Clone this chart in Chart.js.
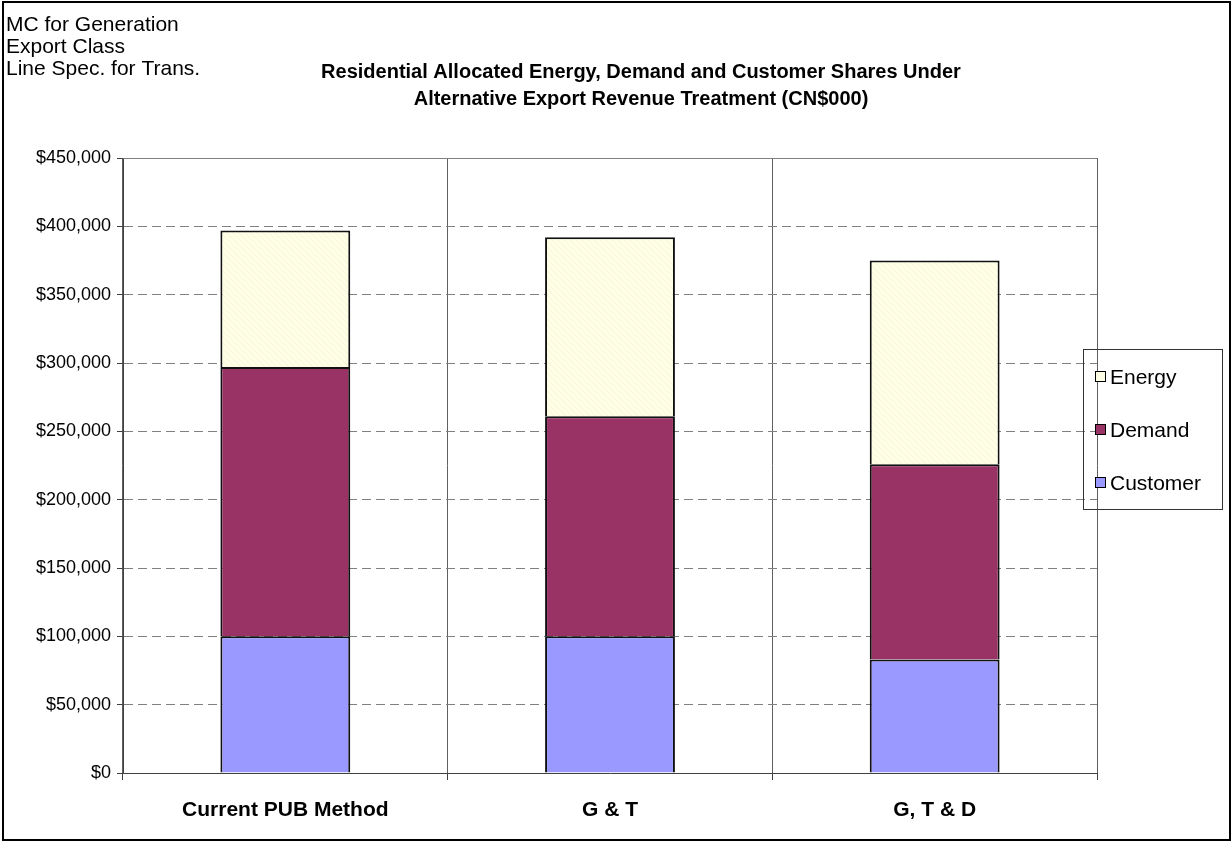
<!DOCTYPE html>
<html>
<head>
<meta charset="utf-8">
<title>Residential Allocated Energy, Demand and Customer Shares</title>
<script src="https://cdn.jsdelivr.net/npm/chart.js@4.4.0/dist/chart.umd.min.js"></script>
<style>
    html, body { margin: 0; padding: 0; background: #ffffff; }
    #wrap { width: 1232px; height: 842px; }
</style>
</head>
<body>
<div id="wrap"><canvas id="BarChart" width="1232" height="842"></canvas></div>
<script>
// values in CN$000
let categories = ["Current PUB Method", "G & T", "G, T & D"];
let customerValues = [100000, 100000, 83000];
let demandValues = [197000, 161000, 143000];
let energyValues = [100000, 131000, 149000];
let yTicks = [0, 50000, 100000, 150000, 200000, 250000, 300000, 350000, 400000, 450000];
let noteLines = ["MC for Generation", "Export Class", "Line Spec. for Trans."];
let titleLines = [
    "Residential Allocated Energy, Demand and Customer Shares Under",
    "Alternative Export Revenue Treatment (CN$000)"
];

const FONT = "'Liberation Sans', Arial, sans-serif";

function makeHatch() {
    let c = document.createElement("canvas");
    c.width = 6;
    c.height = 6;
    let g = c.getContext("2d");
    g.fillStyle = "#ffffe8";
    g.fillRect(0, 0, 6, 6);
    g.strokeStyle = "#f6f6d4";
    g.lineWidth = 1;
    g.beginPath();
    for (let k = -6; k <= 6; k += 6) {
        g.moveTo(k, 0);
        g.lineTo(k + 6, 6);
    }
    g.stroke();
    return g.createPattern(c, "repeat");
}

function formatMoney(v) {
    return "$" + Number(v).toLocaleString("en-US");
}

// frame, notes, title, legend and the top edge of the plot area
const decorations = {
    id: "decorations",
    afterDraw(chart) {
        let ctx = chart.ctx;
        let area = chart.chartArea;
        ctx.save();

        ctx.strokeStyle = "#808080";
        ctx.lineWidth = 1;
        ctx.beginPath();
        ctx.moveTo(area.left, area.top + 0.5);
        ctx.lineTo(area.right, area.top + 0.5);
        ctx.stroke();

        ctx.strokeStyle = "#000000";
        ctx.lineWidth = 2;
        ctx.strokeRect(3, 2, 1227, 838);

        ctx.fillStyle = "#000000";
        ctx.textBaseline = "middle";
        ctx.textAlign = "left";
        ctx.font = "21px " + FONT;
        noteLines.forEach((line, i) => ctx.fillText(line, 6, 25 + i * 22));

        ctx.textAlign = "center";
        ctx.font = "bold 20px " + FONT;
        titleLines.forEach((line, i) => ctx.fillText(line, 641, 72 + i * 27));

        // legend box, listed top-down in reverse stacking order
        ctx.strokeStyle = "#333333";
        ctx.lineWidth = 1;
        ctx.strokeRect(1083.5, 349.5, 139, 160);
        let sets = chart.data.datasets.slice().reverse();
        ctx.textAlign = "left";
        ctx.font = "21px " + FONT;
        sets.forEach((ds, i) => {
            let y = 377 + i * 53;
            ctx.fillStyle = ds.legendColor;
            ctx.fillRect(1095, y - 6, 11, 11);
            ctx.strokeStyle = "#000000";
            ctx.strokeRect(1095.5, y - 5.5, 10, 10);
            ctx.fillStyle = "#000000";
            ctx.fillText(ds.label, 1110, y + 1);
        });

        ctx.restore();
    }
};

let ctx = document.getElementById("BarChart").getContext("2d");
let barChart = new Chart(ctx, {
    type: "bar",
    data: {
        labels: categories,
        datasets: [
            {
                label: "Customer",
                data: customerValues,
                backgroundColor: "#9999ff",
                legendColor: "#9999ff",
                borderColor: "#111111",
                borderWidth: 2
            },
            {
                label: "Demand",
                data: demandValues,
                backgroundColor: "#993366",
                legendColor: "#993366",
                borderColor: "#111111",
                borderWidth: 2
            },
            {
                label: "Energy",
                data: energyValues,
                backgroundColor: makeHatch(),
                legendColor: "#ffffe6",
                borderColor: "#111111",
                borderWidth: 2
            }
        ]
    },
    options: {
        responsive: false,
        animation: false,
        devicePixelRatio: 1,
        layout: {
            padding: {left: 0, right: 135, top: 158, bottom: 0}
        },
        datasets: {
            bar: {categoryPercentage: 0.4, barPercentage: 1.0}
        },
        plugins: {
            legend: {display: false},
            title: {display: false},
            tooltip: {enabled: false}
        },
        scales: {
            x: {
                stacked: true,
                grid: {
                    offset: true,
                    color: "#606060",
                    lineWidth: 1,
                    tickLength: 7,
                    tickColor: "#404040"
                },
                border: {color: "#404040", width: 1},
                ticks: {
                    color: "#000000",
                    padding: 18,
                    font: {family: FONT, size: 21, weight: "bold"}
                },
                afterFit(scale) {
                    scale.height = 69;
                }
            },
            y: {
                stacked: true,
                min: 0,
                max: 450000,
                afterBuildTicks(scale) {
                    scale.ticks = yTicks.map(v => ({value: v}));
                },
                grid: {
                    color: "#808080",
                    lineWidth: 1,
                    tickLength: 6,
                    tickColor: "#404040",
                    tickBorderDash: []
                },
                border: {color: "#404040", width: 1, dash: [9, 5]},
                ticks: {
                    color: "#000000",
                    padding: 6,
                    font: {family: FONT, size: 18},
                    callback: (v) => formatMoney(v)
                },
                afterFit(scale) {
                    scale.width = 123;
                }
            }
        }
    },
    plugins: [decorations]
});
</script>
</body>
</html>
